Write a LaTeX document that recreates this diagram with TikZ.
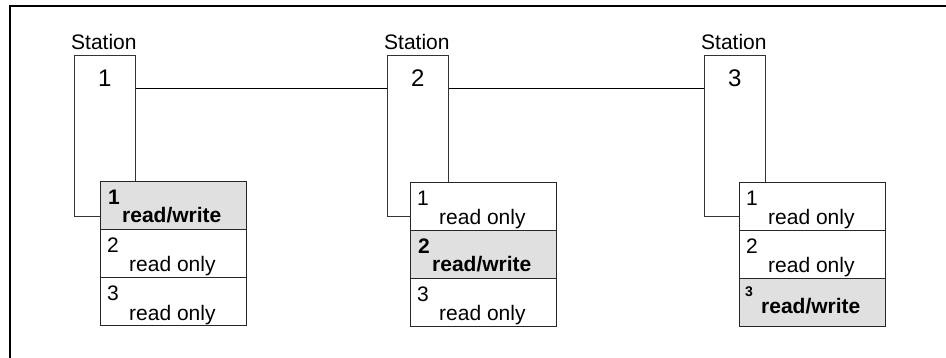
\documentclass[tikz,border=0pt]{standalone}
\usepackage{fontspec}
\setmainfont{Liberation Sans}
\usetikzlibrary{calc}
\begin{document}
\begin{tikzpicture}[x=1pt,y=-1pt,
  frame/.style={line width=2pt,line cap=rect},
  stationbox/.style={draw=black!80,line width=0.8pt,minimum width=61pt,minimum height=161pt,inner sep=0pt},
  cellbox/.style={draw=black!85,line width=0.8pt,minimum width=146pt,minimum height=48pt,inner sep=0pt,anchor=north west},
  active/.style={cellbox,fill=black!12},
  idle/.style={cellbox,fill=white},
  lbl/.style={font=\fontsize{21}{23}\selectfont,inner sep=0pt,anchor=base},
  bignum/.style={font=\fontsize{24}{26}\selectfont,inner sep=0pt,anchor=base},
  celltxt/.style={font=\fontsize{21}{23}\selectfont,inner sep=0pt,anchor=base west},
  bus/.style={line width=0.8pt}]
\useasboundingbox (0,0) rectangle (946,358);
% outer frame, open at the bottom and right
\draw[frame] (10,358) -- (10,6) -- (946,6);

% stations
\node[stationbox,anchor=north west] (s1) at (74,55) {};
\node[stationbox,anchor=north west] (s2) at (387,55) {};
\node[stationbox,anchor=north west] (s3) at (704,55) {};
\foreach \s/\n in {s1/1,s2/2,s3/3}{
  \node[lbl] (lab\n) at ($(\s.north)+(-1,-5)$) {Station};
  \node[bignum] (num\n) at ($(\s.north)+(0,32)$) {\n};
}

% bus line between the stations
\coordinate (b1) at ($(s1.north east)+(0,33)$);
\coordinate (b2) at ($(s2.north west)+(0,33)$);
\coordinate (b3) at ($(s2.north east)+(0,33)$);
\coordinate (b4) at ($(s3.north west)+(0,33)$);
\draw[bus] (b1) -- (b2);
\draw[bus] (b3) -- (b4);

% station 1 table
\node[active] (t1a) at (100,181) {};
\node[idle]   (t1b) at (100,229) {};
\node[idle]   (t1c) at (100,277) {};
\node[celltxt] (t1an) at ($(t1a.north west)+(8,24)$) {\bfseries 1};
\node[celltxt] (t1at) at ($(t1a.north west)+(22,42)$) {\bfseries read/write};
\node[celltxt] (t1bn) at ($(t1b.north west)+(7,24)$) {2};
\node[celltxt] (t1bt) at ($(t1b.north west)+(29,43)$) {read only};
\node[celltxt] (t1cn) at ($(t1c.north west)+(7,24)$) {3};
\node[celltxt] (t1ct) at ($(t1c.north west)+(29,43)$) {read only};

% station 2 table
\node[idle]   (t2a) at (410,182) {};
\node[active] (t2b) at (410,230) {};
\node[idle]   (t2c) at (410,278) {};
\node[celltxt] (t2an) at ($(t2a.north west)+(7,24)$) {1};
\node[celltxt] (t2at) at ($(t2a.north west)+(29,43)$) {read only};
\node[celltxt] (t2bn) at ($(t2b.north west)+(8,24)$) {\bfseries 2};
\node[celltxt] (t2bt) at ($(t2b.north west)+(22,42)$) {\bfseries read/write};
\node[celltxt] (t2cn) at ($(t2c.north west)+(7,24)$) {3};
\node[celltxt] (t2ct) at ($(t2c.north west)+(29,43)$) {read only};

% station 3 table
\node[idle]   (t3a) at (739,182) {};
\node[idle]   (t3b) at (739,230) {};
\node[active] (t3c) at (739,278) {};
\node[celltxt] (t3an) at ($(t3a.north west)+(7,24)$) {1};
\node[celltxt] (t3at) at ($(t3a.north west)+(29,43)$) {read only};
\node[celltxt] (t3bn) at ($(t3b.north west)+(7,24)$) {2};
\node[celltxt] (t3bt) at ($(t3b.north west)+(29,43)$) {read only};
\node[celltxt,font=\fontsize{14}{15}\selectfont\bfseries] (t3cn) at ($(t3c.north west)+(6,19)$) {3};
\node[celltxt] (t3ct) at ($(t3c.north west)+(22,36)$) {\bfseries read/write};
\end{tikzpicture}
\end{document}
